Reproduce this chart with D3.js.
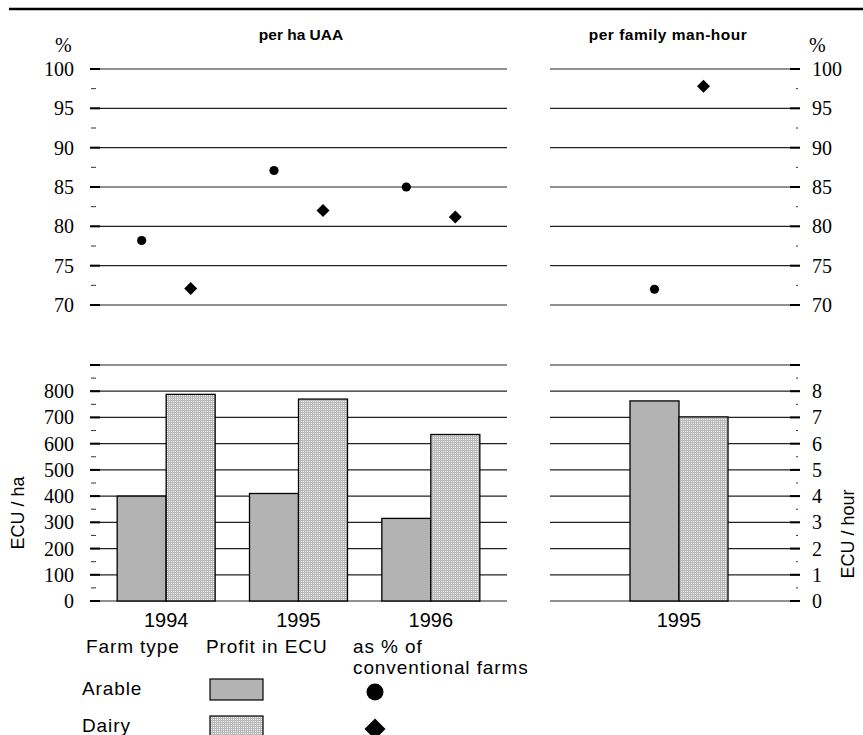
<!DOCTYPE html>
<html><head><meta charset="utf-8">
<script src="https://cdn.jsdelivr.net/npm/d3@7"></script>
<style>body{margin:0;background:#fff}svg{display:block}</style>
</head><body>
<svg id="c" width="863" height="735"></svg>
<script>
// ---- data ----
const years = ["1994", "1995", "1996"];
const series = ["Arable", "Dairy"];
const profitArableHa = [400, 410, 315];
const profitDairyHa = [788, 770, 635];
const pctArableHa = [78.2, 87.1, 85.0];
const pctDairyHa = [72.1, 82.0, 81.2];
const hourYears = ["1995"];
const profitArableHour = [7.63];
const profitDairyHour = [7.02];
const pctArableHour = [72.0];
const pctDairyHour = [97.8];
const pctTicks = [70, 75, 80, 85, 90, 95, 100];
const ecuTicks = [0, 100, 200, 300, 400, 500, 600, 700, 800];
const hourTicks = [0, 1, 2, 3, 4, 5, 6, 7, 8];

const svg = d3.select("#c");
const SERIF = "'Liberation Serif','Times New Roman',serif";
const SANS = "'Liberation Sans',Arial,sans-serif";
const GRID = "#222";

// pattern for dairy
const defs = svg.append("defs");
const pat = defs.append("pattern").attr("id", "dots").attr("patternUnits", "userSpaceOnUse")
  .attr("width", 2).attr("height", 2);
pat.append("rect").attr("width", 2).attr("height", 2).attr("fill", "#f4f4f4");
pat.append("rect").attr("width", 1).attr("height", 2).attr("fill", "#b8b8b8");
pat.append("rect").attr("width", 2).attr("height", 1).attr("fill", "#b8b8b8");
const fills = { Arable: "#b3b3b3", Dairy: "url(#dots)" };

// top rule
svg.append("line").attr("x1", 9).attr("x2", 863).attr("y1", 9).attr("y2", 9)
  .attr("stroke", "#000").attr("stroke-width", 2.5);

// panels
const L = { x0: 90, x1: 507 }, R = { x0: 550, x1: 800 };
const yPct = d3.scaleLinear().domain([70, 100]).range([305, 69]);
const yEcu = d3.scaleLinear().domain([0, 900]).range([601, 365]);
const yHour = d3.scaleLinear().domain([0, 9]).range([601, 365]);

const xL = d3.scaleBand().domain(years).range([100, 497]);
const xR = d3.scaleBand().domain(hourYears).range([613, 745]);
const xS = d3.scaleBand().domain(series).range([-49, 49]);

function grid(panel, scale, majors) {
  svg.append("g").selectAll("line").data(majors).join("line")
    .attr("x1", panel.x0).attr("x2", panel.x1)
    .attr("y1", d => scale(d)).attr("y2", d => scale(d))
    .attr("stroke", GRID).attr("stroke-width", 1.2);
}
function ticks(side, scale, majors, minors, labels) {
  const g = svg.append("g");
  const xMaj = side === "L" ? [L.x0, L.x0 + 10] : [R.x1 - 10, R.x1];
  const xMin = side === "L" ? [L.x0 + 1, L.x0 + 6] : [R.x1 - 4, R.x1 - 2];
  g.selectAll(".maj").data(majors).join("line")
    .attr("x1", xMaj[0]).attr("x2", xMaj[1])
    .attr("y1", d => scale(d)).attr("y2", d => scale(d))
    .attr("stroke", "#000").attr("stroke-width", 2);
  g.selectAll(".min").data(minors).join("line").attr("class", "min")
    .attr("x1", xMin[0]).attr("x2", xMin[1])
    .attr("y1", d => scale(d)).attr("y2", d => scale(d))
    .attr("stroke", "#333").attr("stroke-width", 1);
  g.selectAll("text").data(labels).join("text")
    .attr("x", side === "L" ? 74 : 812)
    .attr("y", d => scale(d) + 7)
    .attr("text-anchor", side === "L" ? "end" : "start")
    .attr("font-family", SERIF).attr("font-size", 20)
    .text(d => d);
}

const pctMinors = d3.range(72.5, 100, 5);
const ecuMajors = ecuTicks.concat([900]);
const ecuMinors = d3.range(50, 900, 100);
const hourMajors = hourTicks.concat([9]);
const hourMinors = d3.range(0.5, 9, 1);

grid(L, yPct, pctTicks); grid(R, yPct, pctTicks);
grid(L, yEcu, ecuMajors); grid(R, yHour, hourMajors);

// bars
const gB = svg.append("g");
function bars(xs, xsc, ysc, a, d) {
  xs.forEach((yr, i) => {
    const vals = { Arable: a[i], Dairy: d[i] };
    series.forEach(s => {
      gB.append("rect")
        .attr("x", xsc(yr) + xsc.bandwidth() / 2 + xS(s))
        .attr("width", xS.bandwidth())
        .attr("y", ysc(vals[s])).attr("height", ysc(0) - ysc(vals[s]))
        .attr("fill", fills[s]).attr("stroke", "#000").attr("stroke-width", 1.3);
    });
  });
}
bars(years, xL, yEcu, profitArableHa, profitDairyHa);
bars(hourYears, xR, yHour, profitArableHour, profitDairyHour);

ticks("L", yPct, pctTicks, pctMinors, pctTicks);
ticks("R", yPct, pctTicks, pctMinors, pctTicks);
ticks("L", yEcu, ecuMajors, ecuMinors, ecuTicks);
ticks("R", yHour, hourMajors, hourMinors, hourTicks);

// points
const circ = d3.symbol().type(d3.symbolCircle).size(Math.PI * 4.6 * 4.6);
const diam = (h) => `M0,${-h}L${h},0L0,${h}L${-h},0Z`;
const gP = svg.append("g");
function pts(xs, xsc, arr, ser) {
  xs.forEach((yr, i) => {
    const x = xsc(yr) + xsc.bandwidth() / 2 + xS(ser) + xS.bandwidth() / 2;
    gP.append("path")
      .attr("d", ser === "Arable" ? circ() : diam(6.5))
      .attr("transform", `translate(${x},${yPct(arr[i])})`)
      .attr("fill", "#000");
  });
}
pts(years, xL, pctArableHa, "Arable");
pts(years, xL, pctDairyHa, "Dairy");
pts(hourYears, xR, pctArableHour, "Arable");
pts(hourYears, xR, pctDairyHour, "Dairy");

// titles
svg.append("text").attr("x", 301).attr("y", 40).attr("text-anchor", "middle")
  .attr("font-family", SANS).attr("font-weight", "bold").attr("font-size", 15.5).text("per ha UAA");
svg.append("text").attr("x", 668).attr("y", 40).attr("text-anchor", "middle")
  .attr("font-family", SANS).attr("font-weight", "bold").attr("font-size", 15.5)
  .attr("letter-spacing", 0.5).text("per family man-hour");
svg.append("text").attr("x", 55).attr("y", 52).attr("font-family", SERIF).attr("font-size", 20).text("%");
svg.append("text").attr("x", 809).attr("y", 52).attr("font-family", SERIF).attr("font-size", 20).text("%");

// axis titles
svg.append("text").attr("transform", "translate(24,513) rotate(-90)").attr("text-anchor", "middle")
  .attr("font-family", SANS).attr("font-size", 18).text("ECU / ha");
svg.append("text").attr("transform", "translate(854,534) rotate(-90)").attr("text-anchor", "middle")
  .attr("font-family", SANS).attr("font-size", 18).text("ECU / hour");

// year labels
svg.append("g").selectAll("text").data(years).join("text")
  .attr("x", d => xL(d) + xL.bandwidth() / 2).attr("y", 627).attr("text-anchor", "middle")
  .attr("font-family", SANS).attr("font-size", 20).text(d => d);
svg.append("g").selectAll("text").data(hourYears).join("text")
  .attr("x", d => xR(d) + xR.bandwidth() / 2).attr("y", 627).attr("text-anchor", "middle")
  .attr("font-family", SANS).attr("font-size", 20).text(d => d);

// legend
const lg = svg.append("g").attr("font-family", SANS).attr("font-size", 19).attr("letter-spacing", 0.9);
lg.append("text").attr("x", 86).attr("y", 653).text("Farm type");
lg.append("text").attr("x", 206).attr("y", 653).text("Profit in ECU");
lg.append("text").attr("x", 353).attr("y", 653).text("as % of");
lg.append("text").attr("x", 353).attr("y", 674).text("conventional farms");
const legY = { Arable: 689, Dairy: 726 };
series.forEach(s => {
  lg.append("text").attr("x", 82).attr("y", legY[s] + 6).text(s);
  lg.append("rect").attr("x", 210).attr("y", legY[s] - 10).attr("width", 53).attr("height", 21)
    .attr("fill", fills[s]).attr("stroke", "#000").attr("stroke-width", 1.2);
  lg.append("path")
    .attr("d", s === "Arable" ? d3.symbol().type(d3.symbolCircle).size(Math.PI * 8.5 * 8.5)() : diam(10.5))
    .attr("transform", `translate(375,${legY[s] + 3})`).attr("fill", "#000");
});
</script>
</body></html>
